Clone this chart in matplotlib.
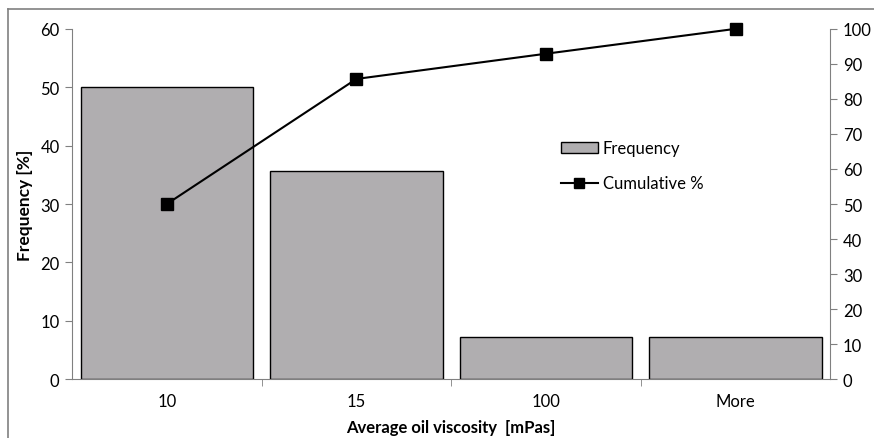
import numpy as np
import matplotlib
matplotlib.use("Agg")
import matplotlib.pyplot as plt
from matplotlib.patches import Rectangle
from matplotlib.lines import Line2D

plt.rcParams['font.family'] = ['Lato', 'DejaVu Sans']

categories = ['10', '15', '100', 'More']
frequency = [50.0, 35.7, 7.14, 7.14]
cumulative = [50.0, 85.7, 92.9, 100.0]

grey = '#808080'

fig = plt.figure(figsize=(8.74, 4.39), dpi=100)
ax = fig.add_axes([0.0824, 0.134, 0.8676, 0.798])
x = np.arange(len(categories))

ax.bar(x, frequency, width=0.91, color='#B0AEB0', edgecolor='black', linewidth=1.0, zorder=2)
ax.set_xlim(-0.5, 3.5)
ax.set_ylim(0, 60)
ax.set_yticks(range(0, 61, 10))
ax.set_xticks(x)
ax.set_xticklabels(categories)
ax.set_xticks(np.arange(0.5, 3.5, 1.0), minor=True)
ax.tick_params(axis='x', which='major', length=0, pad=10, labelsize=12)
ax.tick_params(axis='x', which='minor', length=5, color=grey, direction='out')
ax.tick_params(axis='y', length=5, color=grey, labelsize=12, pad=4)
ax.set_xlabel('Average oil viscosity  [mPas]', fontsize=12, fontweight='bold', labelpad=7)
ax.set_ylabel('Frequency [%]', fontsize=12.5, fontweight='bold', labelpad=5)
for s in ['top', 'right']:
    ax.spines[s].set_visible(False)
for s in ['left', 'bottom']:
    ax.spines[s].set_color(grey)

ax2 = ax.twinx()
ax2.plot(x, cumulative, color='black', linewidth=1.5, marker='s', markersize=9,
         markerfacecolor='black', zorder=3, clip_on=False)
ax2.set_ylim(0, 100)
ax2.set_yticks(range(0, 101, 10))
ax2.tick_params(axis='y', length=5, color=grey, labelsize=12, pad=4)
for s in ['top', 'left', 'bottom']:
    ax2.spines[s].set_visible(False)
ax2.spines['right'].set_color(grey)

handles = [Rectangle((0, 0), 1, 1, facecolor='#B0AEB0', edgecolor='black', linewidth=1.0),
           Line2D([], [], color='black', linewidth=1.5, marker='s', markersize=7)]
ax2.legend(handles, ['Frequency', 'Cumulative %'], loc='upper left',
           bbox_to_anchor=(0.625, 0.725), frameon=False, fontsize=12,
           handlelength=2.2, handleheight=0.7, handletextpad=0.3, labelspacing=1.15)

# outer chart frame (top and left edges visible)
fig.add_artist(Line2D([8 / 874, 1.0], [1 - 10 / 439, 1 - 10 / 439],
                      transform=fig.transFigure, color=grey, linewidth=1.2))
fig.add_artist(Line2D([8 / 874, 8 / 874], [0.0, 1 - 10 / 439],
                      transform=fig.transFigure, color=grey, linewidth=1.2))

fig.savefig('out.png', dpi=100)
